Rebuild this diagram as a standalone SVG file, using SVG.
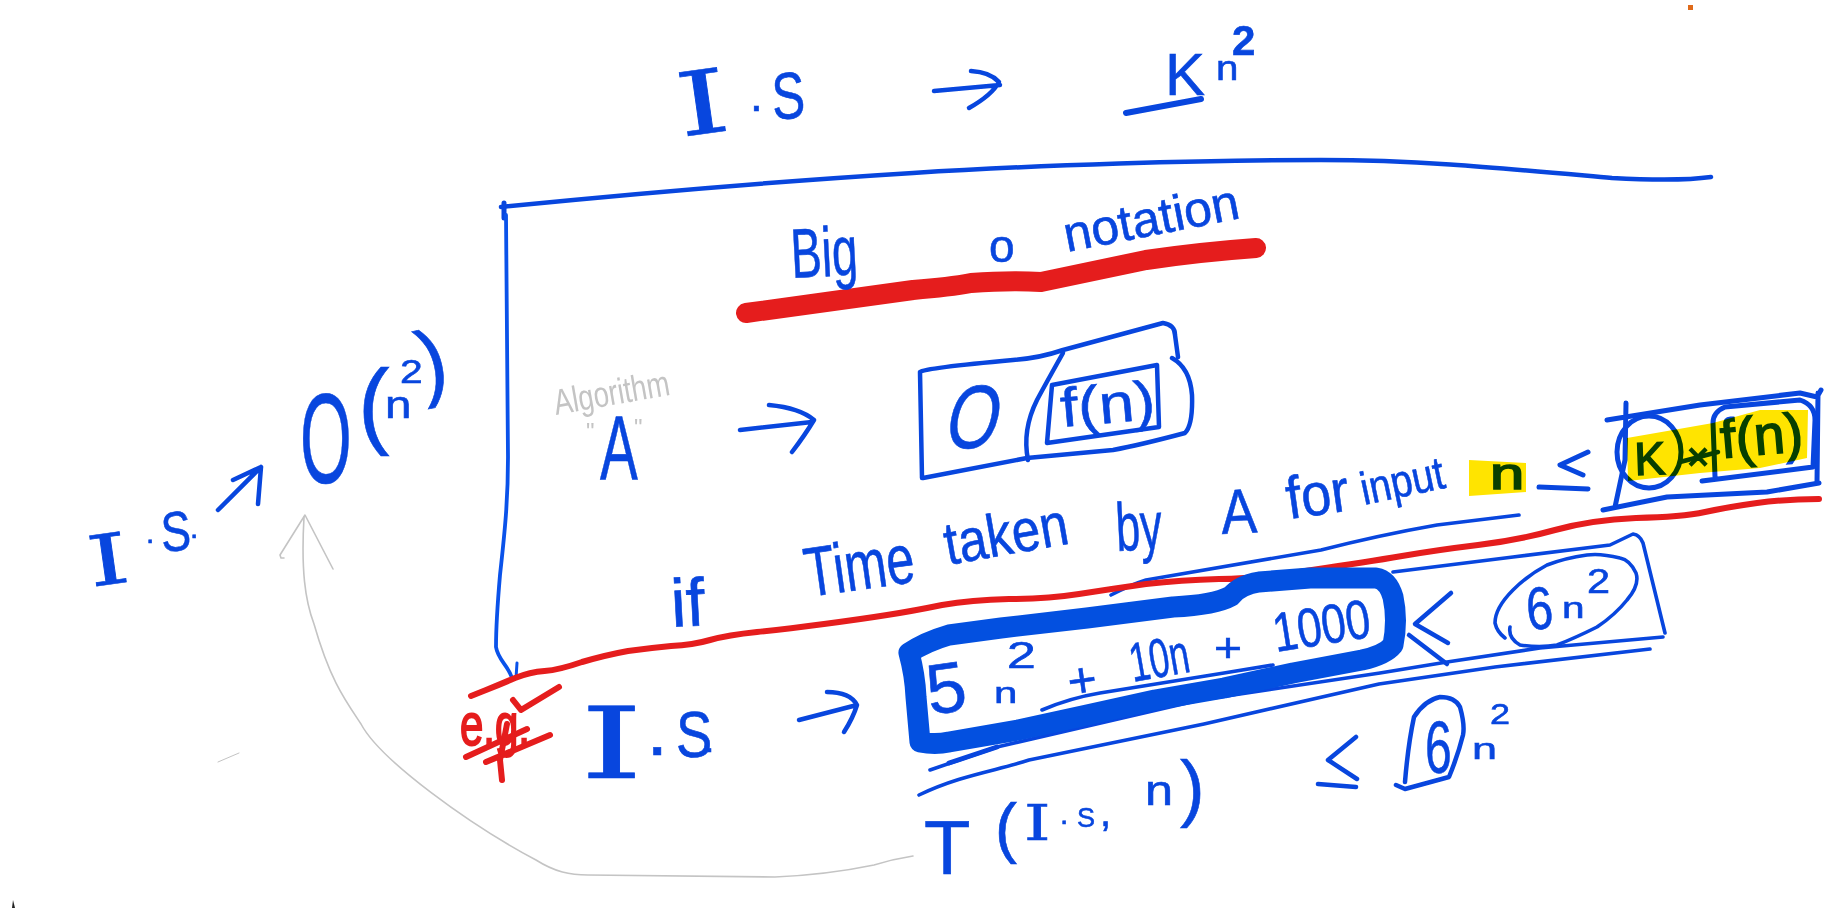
<svg xmlns="http://www.w3.org/2000/svg" width="1827" height="914" viewBox="0 0 1827 914">
<style>
.l{fill:none;stroke:#0846de;stroke-width:4.5;stroke-linecap:round;stroke-linejoin:round}
.t{stroke-width:3.6}
.r{fill:none;stroke:#e51d1d;stroke-width:6;stroke-linecap:round;stroke-linejoin:round}
.g{fill:none;stroke:#c4c4c4;stroke-width:1.6;stroke-linecap:round;stroke-linejoin:round}
text{font-family:"Liberation Sans",Arial,sans-serif}
.h{fill:#0846de;stroke:#0846de;stroke-width:.6}
.b{stroke-width:1.6}
.s{font-family:"DejaVu Serif","Liberation Serif",serif}
.y{fill:#ffe400;mix-blend-mode:multiply}
</style>
<rect width="1827" height="914" fill="#fff"/>
<g id="connectors">
<path class="l" d="M501 207C640 193 800 180 913 173C1040 165 1200 160 1321 160C1420 160 1500 168 1612 178C1650 180 1690 180 1711 177"/>
<path class="l" style="stroke-width:5" d="M504 203L504 218"/>
<path class="l" style="stroke-width:3.8;stroke:#0a52ea" d="M506 215L508 457C508 500 505 530 500 575C497 610 496 630 496 647C498 660 508 665 512 678"/>
<path class="l" style="stroke-width:3;stroke:#0a52ea" d="M517 663L516 678"/>
<path class="g" d="M304 517C301 570 305 600 314 624C330 680 345 700 361 724C380 760 470 825 536 860C555 872 570 875 588 875L775 877C820 875 850 870 874 865C890 860 900 858 913 856"/>
<path class="g" d="M333 569L305 515L280 555L281 558L284 558"/>
<path class="g" style="stroke-width:1" d="M218 762L239 753"/>
<path class="l" d="M934 91L1000 85M971 71Q990 72 999 82Q992 95 969 108"/>
<path class="l" d="M740 430L812 422M769 405Q800 408 814 420Q805 435 792 452"/>
<path class="l" d="M218 510L261 467M233 480L261 467L258 504"/>
<path class="l" d="M799 720L857 705M827 692Q850 692 857 705Q853 718 844 732"/>
<path class="l" style="stroke-width:6" d="M1126 113L1201 99"/>
<path style="fill:none;stroke:#e51d1d;stroke-width:20;stroke-linecap:round;stroke-linejoin:round" d="M746 313L913 290Q950 287 971 283Q1010 280 1041 282L1146 260Q1200 252 1256 248"/>
<path class="l t" d="M1111 595Q1130 585 1146 580L1321 550Q1380 535 1437 525L1519 515"/>
<path class="l t" d="M1042 710Q1070 698 1100 693L1224 673L1273 665"/>
<path class="l t" d="M930 770L997 747L1200 700L1380 673L1447 662L1540 648L1663 637"/>
<path class="l" style="stroke-width:5" d="M949 763L997 747"/>
<path class="l t" d="M919 795C960 775 1000 770 1029 760L1204 724L1379 684L1495 667L1650 649"/>
<path class="r" d="M471 696L486 690Q501 684 515 678Q530 672 544.5 671Q559 670 582 662Q606 655 628 651Q650 648 671 646Q693 645 710 640Q728 635 757 632Q786 629 824 624Q862 619 887 615Q913 611 942 605Q971 600 1009 599Q1047 599 1079 594Q1111 589 1146 584Q1181 580 1219 579Q1257 579 1312 570Q1367 562 1402 556Q1437 550 1478 545Q1519 540 1555 530Q1591 520 1636 518Q1682 517 1705 512Q1728 507 1757 503Q1787 499 1819 499"/>
<path class="r" d="M466 757L527 729M486 762L550 735M513 700L521 710L559 687M507 724L500 760L502 780"/>
</g>
<g id="is-top">
<text class="h s" font-size="88" transform="translate(681 137) rotate(-8) scale(1.5 1)">I</text>
<text class="h" font-size="46" x="750" y="111">.</text>
<text class="h" font-size="66" transform="translate(773 120) scale(.75 1) rotate(-4)">S</text>
</g>
<g id="k-n2">
<text class="h" font-size="60" x="1165" y="95">K</text>
<text class="h" font-size="35" transform="translate(1216 80) scale(1.15 1)">n</text>
<text class="h" font-weight="bold" font-size="42" x="1232" y="55">2</text>
</g>
<g id="big-o-notation">
<text class="h" font-size="70" transform="translate(792 278) rotate(-3) scale(.66 1)">Big</text>
<text class="h" font-size="46" x="989" y="262">o</text>
<text class="h" font-size="50" transform="translate(1067 252) rotate(-11)">notation</text>
</g>
<g id="algorithm-a">
<text font-size="36" fill="#c4c4c4" transform="translate(556 415) rotate(-10) scale(.77 1)">Algorithm</text>
<text font-size="24" fill="#c4c4c4" x="586" y="440">"</text>
<text font-size="24" fill="#c4c4c4" x="634" y="436">"</text>
<text class="h" font-size="90" transform="translate(600 479) scale(.63 1)">A</text>
</g>
<g id="o-fn-box">
<path class="l" d="M922 478L920 372Q925 368 1013 360Q1040 358 1063 350L1163 323Q1175 325 1175 335L1178 357M1172 358Q1190 368 1192 395Q1193 425 1185 433Q1140 445 1113 450L1027 458L923 478"/>
<path class="l" d="M1063 353Q1045 385 1037 400Q1022 430 1028 460"/>
<path class="l" d="M1052 385L1157 365L1159 427L1047 443L1052 385"/>
<text class="h" font-size="90" transform="translate(942 448) skewX(-12) scale(.75 1)">O</text>
<text class="h" font-size="55" transform="translate(1062 427) rotate(-5) scale(1.15 1)">f(n)</text>
</g>
<g id="o-n2">
<text class="h" font-size="128" transform="translate(300 483) scale(.52 1)">O</text>
<text class="h" font-size="95" x="358" y="436">(</text>
<text class="h" font-size="38" transform="translate(385 418) scale(1.25 1)">n</text>
<text class="h" font-size="34" transform="translate(400 383) scale(1.2 1)">2</text>
<text class="h" font-size="85" transform="translate(424 392) rotate(-12)">)</text>
</g>
<g id="is-left">
<text class="h s" font-size="70" transform="translate(91 587) rotate(-8) scale(1.5 1)">I</text>
<text class="h" font-size="30" x="146" y="543">.</text>
<text class="h" font-size="56" transform="translate(162 552) scale(.8 1) rotate(-4)">S</text>
<text class="h" font-size="30" x="190" y="538">.</text>
</g>
<g id="eg">
<text font-size="60" fill="#e51d1d" stroke="#e51d1d" stroke-width="2" transform="translate(460 745) scale(.7 1)">e.g.</text>
</g>
<g id="is-bottom">
<text class="h s" font-size="100" transform="translate(580 778) scale(1.6 1)">I</text>
<text class="h" font-size="52" x="650" y="755" font-weight="bold">.</text>
<text class="h" font-size="64" transform="translate(676 757) scale(.85 1)">S</text>
<text class="h" font-size="32" x="705" y="752">.</text>
</g>
<g id="if-line">
<text class="h" font-size="68" transform="translate(672 627) rotate(-3)">if</text>
<text class="h" font-size="70" transform="translate(808 597) rotate(-8) scale(.72 1)">Time</text>
<text class="h" font-size="60" transform="translate(948 565) rotate(-10) scale(.85 1)">taken</text>
<text class="h" font-size="68" transform="translate(1117 551) rotate(-3) scale(.64 1)">by</text>
<text class="h" font-size="63" transform="translate(1222 534) rotate(-3) scale(.85 1)">A</text>
<text class="h" font-size="60" transform="translate(1289 519) rotate(-8) scale(.9 1)">for</text>
<text class="h" font-size="46" transform="translate(1364 505) rotate(-12) scale(.85 1)">input</text>
<text class="h b" font-size="44" transform="translate(1490 489) scale(1.4 1)">n</text>
</g>
<g id="k-fn-box">
<path class="l" style="stroke-width:5" d="M1588 452L1560 465L1583 475M1539 487L1588 489"/>
<path class="l" style="stroke-width:5" d="M1607 420L1700 405L1800 393L1817 397L1821 390M1818 393L1817 483M1603 510L1667 497L1767 492L1819 483M1626 403L1625 460L1615 507"/>
<path class="l" style="stroke-width:5" d="M1702 481L1813 467L1815 420Q1815 405 1800 400L1725 407Q1713 412 1713 423L1715 477"/>
<ellipse class="l" style="stroke-width:5" cx="1649" cy="452" rx="32" ry="36"/>
<path class="l" d="M1680 462L1718 452"/>
<text class="h b" font-size="46" transform="translate(1635 475) rotate(-2)">K</text>
<text class="h b" font-size="38" x="1687" y="470">×</text>
<text class="h b" font-size="55" transform="translate(1722 458) rotate(-5)">f(n)</text>
</g>
<g id="highlight">
<path class="y" d="M1469 460L1526 463L1526 492L1469 496Z"/>
<path class="y" d="M1627 438L1673 430L1713 423L1760 410L1808 410L1807 458L1760 468L1700 473L1628 481Z"/>
</g>
<g id="sum-box">
<path style="fill:none;stroke:#0350e0;stroke-width:21;stroke-linejoin:round" d="M909 653Q915 675 916 697L920 742Q935 745 949 742L1018 730L1087 715L1155 700L1224 688L1293 673L1362 660Q1385 655 1393 645Q1398 620 1393 597Q1388 580 1376 578L1310 578L1259 582Q1240 585 1231 596Q1215 605 1173 607L1087 618L1001 628L949 635Q925 642 909 653Z"/>
<text class="h" font-size="71" transform="translate(930 715) rotate(-8)">5</text>
<text class="h" font-size="30" transform="translate(994 703) scale(1.4 1)">n</text>
<text class="h" font-size="37" transform="translate(1007 668) scale(1.4 1)">2</text>
<text class="h" font-size="50" transform="translate(1070 699) rotate(-8)">+</text>
<text class="h" font-size="55" transform="translate(1133 682) rotate(-10) scale(.65 1)">10n</text>
<text class="h" font-size="40" transform="translate(1214 662) scale(1.2 1)">+</text>
<text class="h" font-size="55" transform="translate(1276 652) rotate(-9) scale(.8 1)">1000</text>
</g>
<g id="six-n2-box">
<path class="l" d="M1451 593L1415 624L1448 643M1409 635L1447 664"/>
<path class="l t" d="M1393 572L1513 557L1610 545L1633 534Q1640 535 1643 543L1665 633"/>
<path class="l t" d="M1510 627Q1508 638 1520 645Q1540 648 1557 645Q1575 638 1597 627Q1615 615 1627 600Q1640 585 1636 573Q1630 560 1620 558Q1600 553 1587 555Q1565 558 1547 565Q1528 575 1513 590Q1495 608 1495 623Q1497 632 1505 638"/>
<text class="h" font-size="60" transform="translate(1528 630) rotate(-5) scale(.8 1)">6</text>
<text class="h" font-size="30" transform="translate(1562 618) scale(1.35 1)">n</text>
<text class="h" font-size="36" transform="translate(1587 593) scale(1.15 1)">2</text>
</g>
<g id="t-is-n">
<text class="h" font-size="76" x="924" y="874">T</text>
<text class="h" font-size="66" x="995" y="850">(</text>
<text class="h s" font-size="48" transform="translate(1024 840) scale(1.4 1)">I</text>
<text class="h" font-size="30" x="1060" y="824">.</text>
<text class="h" font-size="27" x="1077" y="827">S</text>
<text class="h" font-size="40" x="1100" y="826">,</text>
<text class="h" font-size="42" transform="translate(1145 805) scale(1.2 1)">n</text>
<text class="h" font-size="74" transform="translate(1180 813)">)</text>
</g>
<g id="le-6n2">
<path class="l" d="M1356 737L1328 760L1357 779M1318 784L1356 787"/>
<path class="l" d="M1405 782Q1408 745 1414 717Q1425 700 1440 697Q1455 697 1460 707Q1465 725 1463 735Q1458 755 1449 777L1405 789L1396 785"/>
<text class="h" font-size="74" transform="translate(1425 773) scale(.65 1)">6</text>
<text class="h" font-size="30" transform="translate(1472 759) scale(1.5 1)">n</text>
<text class="h" font-size="30" transform="translate(1490 724) scale(1.2 1)">2</text>
</g>
<rect x="1688" y="5" width="5" height="5" fill="#df6a1a"/>
<path d="M13 900L15 908L12 908Z" fill="#222"/>
</svg>
